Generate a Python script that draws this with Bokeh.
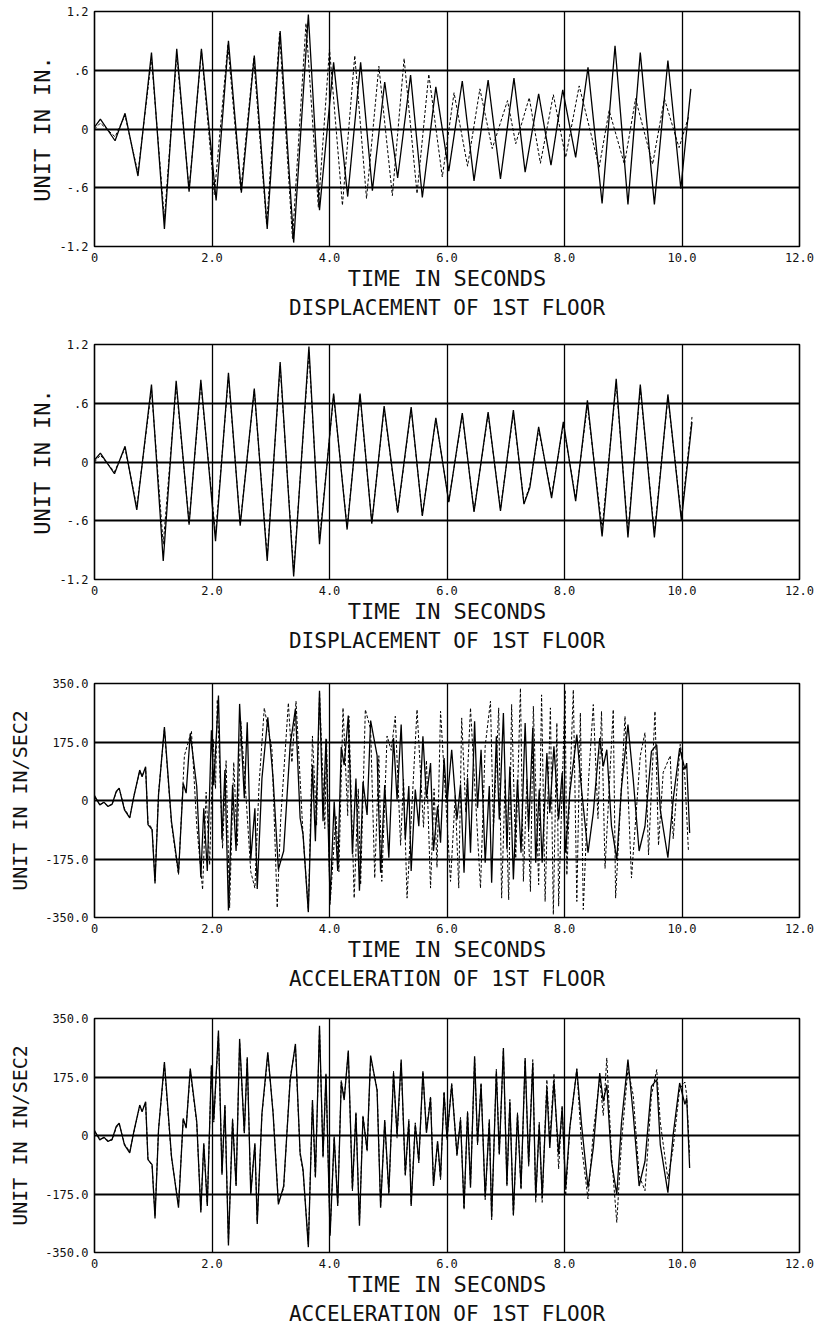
from bokeh.plotting import figure
from bokeh.models import Range1d, FixedTicker
from bokeh.layouts import column
from bokeh.embed import file_html
from bokeh.resources import INLINE

# ---------------- data ----------------
x_ticks = [0, 2, 4, 6, 8, 10, 12]
x_tick_labels = ["0", "2.0", "4.0", "6.0", "8.0", "10.0", "12.0"]

disp_ticks = [-1.2, -0.6, 0, 0.6, 1.2]
disp_tick_labels = ["-1.2", "-.6", "0", ".6", "1.2"]
acc_ticks = [-350, -175, 0, 175, 350]
acc_tick_labels = ["-350.0", "-175.0", "0", "175.0", "350.0"]

# Panel 1 : displacement, measured (solid) and computed (dashed)
p1_t_meas = [0.0, 0.1, 0.35, 0.52, 0.74, 0.97, 1.19, 1.40, 1.61, 1.82,
             2.07, 2.28, 2.50, 2.72, 2.94, 3.16, 3.39, 3.64, 3.83, 4.07,
             4.31, 4.53, 4.73, 4.94, 5.16, 5.38, 5.58, 5.81, 6.03, 6.26,
             6.46, 6.70, 6.91, 7.14, 7.33, 7.56, 7.77, 7.97, 8.19, 8.40,
             8.64, 8.86, 9.08, 9.29, 9.53, 9.76, 9.98, 10.15]
p1_v_meas = [0.02, 0.10, -0.12, 0.16, -0.48, 0.78, -1.02, 0.82, -0.64, 0.82,
             -0.73, 0.90, -0.65, 0.75, -1.02, 1.00, -1.16, 1.17, -0.83, 0.68,
             -0.69, 0.68, -0.63, 0.48, -0.50, 0.55, -0.70, 0.43, -0.43, 0.49,
             -0.53, 0.50, -0.51, 0.52, -0.44, 0.36, -0.37, 0.40, -0.29, 0.63,
             -0.76, 0.85, -0.77, 0.78, -0.77, 0.70, -0.61, 0.41]
p1_t_comp = [0.0, 0.1, 0.35, 0.52, 0.74, 0.97, 1.19, 1.40, 1.61, 1.82,
             2.04, 2.27, 2.49, 2.71, 2.93, 3.15, 3.37, 3.60, 3.81, 4.00,
             4.22, 4.43, 4.63, 4.84, 5.07, 5.27, 5.49, 5.69, 5.92, 6.12,
             6.35, 6.56, 6.77, 7.03, 7.17, 7.40, 7.59, 7.81, 8.02, 8.25,
             8.59, 8.76, 9.02, 9.21, 9.50, 9.70, 9.95, 10.12]
p1_v_comp = [0.0, 0.06, -0.08, 0.14, -0.45, 0.72, -0.92, 0.76, -0.62, 0.80,
             -0.67, 0.86, -0.63, 0.72, -0.98, 0.98, -1.12, 1.08, -0.80, 0.82,
             -0.78, 0.75, -0.71, 0.64, -0.68, 0.72, -0.66, 0.56, -0.49, 0.37,
             -0.38, 0.41, -0.20, 0.29, -0.15, 0.32, -0.35, 0.35, -0.29, 0.44,
             -0.39, 0.19, -0.36, 0.31, -0.36, 0.31, -0.19, 0.14]

# Panel 2 : displacement, measured (solid) and computed (dashed)
p2_t = [0.0, 0.10, 0.34, 0.52, 0.72, 0.97, 1.17, 1.39, 1.61, 1.81,
        2.06, 2.28, 2.48, 2.72, 2.94, 3.16, 3.39, 3.65, 3.83, 4.07,
        4.30, 4.52, 4.72, 4.93, 5.16, 5.39, 5.58, 5.81, 6.03, 6.26,
        6.46, 6.70, 6.91, 7.13, 7.31, 7.41, 7.56, 7.78, 7.98, 8.19,
        8.39, 8.64, 8.88, 9.08, 9.29, 9.53, 9.76, 9.99, 10.17]
p2_v_meas = [0.02, 0.09, -0.12, 0.16, -0.49, 0.79, -1.01, 0.83, -0.64, 0.84,
             -0.81, 0.91, -0.65, 0.75, -1.01, 1.02, -1.17, 1.18, -0.84, 0.70,
             -0.69, 0.70, -0.63, 0.57, -0.51, 0.56, -0.55, 0.45, -0.41, 0.50,
             -0.51, 0.51, -0.50, 0.53, -0.43, -0.26, 0.36, -0.37, 0.41, -0.40,
             0.63, -0.76, 0.85, -0.77, 0.79, -0.77, 0.69, -0.60, 0.41]
p2_v_comp = [0.0, 0.07, -0.10, 0.14, -0.46, 0.74, -0.84, 0.78, -0.62, 0.80,
             -0.74, 0.87, -0.63, 0.73, -0.97, 0.98, -1.12, 1.12, -0.80, 0.68,
             -0.67, 0.68, -0.62, 0.55, -0.52, 0.54, -0.54, 0.44, -0.40, 0.48,
             -0.50, 0.49, -0.48, 0.50, -0.42, -0.24, 0.33, -0.34, 0.38, -0.37,
             0.58, -0.68, 0.80, -0.72, 0.75, -0.72, 0.66, -0.56, 0.46]

# Acceleration, measured record (solid, panels 3 and 4)
acc_t = [0.00, 0.09, 0.16, 0.23, 0.30, 0.37, 0.42, 0.51, 0.60, 0.67,
         0.77, 0.81, 0.87, 0.91, 0.98, 1.03, 1.09, 1.19, 1.31, 1.43,
         1.51, 1.56, 1.63, 1.74, 1.81, 1.86, 1.92, 1.99, 2.03, 2.11,
         2.17, 2.22, 2.28, 2.35, 2.41, 2.47, 2.55, 2.60, 2.66, 2.73,
         2.77, 2.85, 2.95, 3.04, 3.13, 3.22, 3.33, 3.42, 3.50, 3.55,
         3.64, 3.71, 3.76, 3.83, 3.89, 3.94, 4.01, 4.08, 4.14, 4.20,
         4.25, 4.32, 4.39, 4.45, 4.51, 4.57, 4.64, 4.70, 4.81, 4.87,
         4.94, 5.01, 5.09, 5.15, 5.22, 5.29, 5.35, 5.39, 5.46, 5.52,
         5.59, 5.65, 5.72, 5.77, 5.84, 5.89, 5.95, 6.00, 6.08, 6.17,
         6.23, 6.29, 6.35, 6.40, 6.47, 6.52, 6.58, 6.65, 6.72, 6.76,
         6.84, 6.89, 6.96, 7.02, 7.07, 7.13, 7.20, 7.26, 7.33, 7.39,
         7.46, 7.51, 7.57, 7.62, 7.70, 7.75, 7.82, 7.90, 7.96, 8.02,
         8.09, 8.21, 8.29, 8.40, 8.49, 8.60, 8.66, 8.72, 8.80, 8.89,
         8.97, 9.08, 9.17, 9.27, 9.37, 9.48, 9.57, 9.63, 9.76, 9.85,
         9.96, 10.05, 10.08, 10.13]
acc_meas = [15, -13, -5, -18, -11, 27, 37, -28, -52, 12,
            91, 71, 101, -72, -87, -248, 17, 220, -62, -216,
            51, 22, 200, 42, -230, -23, -211, 210, 46, 314,
            -117, 91, -329, 46, -151, 289, 7, 234, -176, -23,
            -265, 66, 249, 66, -206, -151, 165, 274, -52, -102,
            -334, 106, -122, 328, -62, 185, -300, -3, -211, 160,
            106, 254, -161, 66, -270, 56, -43, 239, 135, -216,
            46, -171, 187, 3, 227, -116, 43, -211, 33, -77,
            192, 8, 112, -151, -17, -126, 127, -7, 152, -57,
            48, -216, 68, -156, 237, -22, 152, -186, 43, -246,
            192, -57, 262, -146, 102, -236, 63, -156, 232, -87,
            217, -186, 33, -186, 142, -37, 162, -57, 83, -156,
            23, 197, 33, -156, -37, 187, 102, 152, -77, -176,
            38, 227, 63, -151, -77, 147, 167, -27, -171, 3,
            157, 93, 112, -97]

# Panel 3 : computed acceleration (dashed)
p3_t_comp = [0.00, 0.09, 0.16, 0.23, 0.30, 0.37, 0.42, 0.51, 0.60, 0.67,
             0.77, 0.81, 0.87, 0.91, 0.98, 1.03, 1.09, 1.19, 1.31, 1.43,
             1.53, 1.65, 1.74, 1.84, 1.90, 1.96, 2.02, 2.06, 2.09, 2.18,
             2.24, 2.30, 2.37, 2.43, 2.49, 2.57, 2.66, 2.73, 2.80, 2.89,
             3.02, 3.11, 3.17, 3.30, 3.36, 3.43, 3.55, 3.64, 3.71, 3.78,
             3.83, 3.92, 3.95, 4.01, 4.11, 4.16, 4.23, 4.31, 4.33, 4.42,
             4.49, 4.53, 4.61, 4.70, 4.77, 4.84, 4.89, 4.98, 5.05,
             5.12, 5.21, 5.26, 5.32, 5.49, 5.60, 5.65, 5.72, 5.78, 5.83,
             5.89, 6.06, 6.14, 6.20, 6.25, 6.32, 6.40, 6.57, 6.65, 6.74,
             6.79, 6.88, 6.93, 6.99, 7.05, 7.10, 7.17, 7.25, 7.30, 7.36,
             7.42, 7.47, 7.56, 7.61, 7.67, 7.76, 7.81, 7.87, 7.90, 8.01,
             8.04, 8.15, 8.21, 8.27, 8.32, 8.41, 8.49, 8.57, 8.63, 8.69,
             8.83, 8.87, 9.03, 9.14, 9.29, 9.37, 9.43, 9.54, 9.60, 9.68,
             9.80, 9.85, 9.97, 10.05, 10.11]
p3_v_comp = [10, -12, -6, -16, -12, 25, 36, -24, -50, 14,
             88, 74, 96, -66, -84, -240, 22, 214, -70, -222,
             134, 208, -74, -267, 25, -193, 183, 35, 302, -143,
             119, -321, 114, -134, 237, 35, -213, -262, 45, 277,
             153, -321, -54, 292, 114, 297, -104, -331, 193, -74,
             326, -84, 183, -311, -45, -213, 277, -45, 252, -292,
             35, -252, 272, 213, -232, 134, -242, 193, 150,
             252, -134, 64, -292, 272, -80, 120, -262, 35, -200,
             267, -242, 15, -262, 247, -35, 277, -262, 163, 297,
             -84, 277, -292, 64, -297, 287, -173, 336, -242, 64,
             -272, 282, -252, 316, -302, 277, -341, 232, -316, 331,
             -223, 331, -302, 262, -326, 64, 287, -54, 267, -203,
             272, -292, 252, -232, 134, 203, -163, 267, -134, 84,
             134, -114, 168, 64, -153]

# Panel 4 : computed acceleration (dashed), same time stamps as acc_t
p4_v_comp = [12, -10, -8, -15, -14, 24, 35, -25, -48, 10,
             88, 74, 98, -70, -90, -240, 20, 212, -66, -208,
             48, 26, 192, 38, -222, -28, -205, 204, 40, 305,
             -112, 86, -320, 50, -146, 280, 10, 228, -170, -28,
             -258, 62, 240, 70, -200, -158, 172, 268, -58, -108,
             -325, 100, -128, 320, -66, 180, -292, -8, -205, 166,
             112, 248, -166, 70, -262, 60, -48, 232, 140, -210,
             40, -176, 192, -8, 220, -122, 48, -205, 38, -82,
             186, 14, 118, -146, -22, -132, 132, -12, 158, -62,
             54, -222, 74, -150, 230, -28, 158, -192, 48, -252,
             198, -52, 255, -152, 108, -242, 68, -162, 226, -92,
             227, -200, 40, -200, 167, -20, 185, -100, 90, -180,
             20, 200, -30, -190, 10, 170, 60, 232, -60, -260,
             -20, 200, 120, -120, -165, 120, 197, 40, -130, -37,
             140, 160, 120, -60]

FONT = "DejaVu Sans Mono"
PAGE_W = 825
LEFT = 94
FRAME_W = 705


def make_panel(t_m, v_m, t_c, v_c, yr, yt, ylabels, ylabel, title,
               ylabel_size, ylabel_standoff, top, bottom, fh):
    p = figure(frame_width=FRAME_W, frame_height=fh,
               min_border_left=LEFT, min_border_right=PAGE_W - LEFT - FRAME_W,
               min_border_top=top, min_border_bottom=bottom,
               x_range=Range1d(0, 12), y_range=Range1d(yr[0], yr[1]),
               output_backend="svg", toolbar_location=None,
               title=title, title_location="below")
    p.background_fill_color = "white"
    p.border_fill_color = "white"
    p.outline_line_color = "black"
    p.outline_line_width = 1.6

    p.title.align = "center"
    p.title.text_font = FONT
    p.title.text_font_size = "21px"
    p.title.text_font_style = "normal"
    p.title.text_color = "#111111"
    p.title.standoff = 0

    xa = p.xaxis[0]
    xa.ticker = FixedTicker(ticks=x_ticks)
    xa.major_label_overrides = {k: s for k, s in zip(x_ticks, x_tick_labels)}
    xa.axis_label = "TIME IN SECONDS"
    xa.axis_label_text_font = FONT
    xa.axis_label_text_font_size = "22px"
    xa.axis_label_text_font_style = "normal"
    xa.axis_label_text_color = "#111111"
    xa.axis_label_standoff = 1

    ya = p.yaxis[0]
    ya.ticker = FixedTicker(ticks=yt)
    ya.major_label_overrides = {k: s for k, s in zip(yt, ylabels)}
    ya.axis_label = ylabel
    ya.axis_label_text_font = FONT
    ya.axis_label_text_font_size = ylabel_size
    ya.axis_label_text_font_style = "normal"
    ya.axis_label_text_color = "#111111"
    ya.axis_label_standoff = ylabel_standoff

    for ax in (xa, ya):
        ax.axis_line_color = None
        ax.major_tick_line_color = None
        ax.minor_tick_line_color = None
        ax.major_tick_out = 0
        ax.major_tick_in = 0
        ax.major_label_text_font = FONT
        ax.major_label_text_font_size = "12px"
        ax.major_label_text_color = "#111111"
    xa.major_label_standoff = 6
    ya.major_label_standoff = 6

    p.xgrid.ticker = FixedTicker(ticks=x_ticks[1:-1])
    p.ygrid.ticker = FixedTicker(ticks=yt[1:-1])
    p.xgrid.grid_line_color = "black"
    p.xgrid.grid_line_width = 1.3
    p.ygrid.grid_line_color = "black"
    p.ygrid.grid_line_width = 1.8

    p.line(t_c, v_c, line_color="black", line_width=1.0, line_dash="3 2")
    p.line(t_m, v_m, line_color="black", line_width=1.3)
    return p


p1 = make_panel(p1_t_meas, p1_v_meas, p1_t_comp, p1_v_comp, (-1.2, 1.2),
                disp_ticks, disp_tick_labels, "UNIT IN IN.",
                "DISPLACEMENT OF 1ST FLOOR", "22px", 2, 11, 79, 235)
p2 = make_panel(p2_t, p2_v_meas, p2_t, p2_v_comp, (-1.2, 1.2),
                disp_ticks, disp_tick_labels, "UNIT IN IN.",
                "DISPLACEMENT OF 1ST FLOOR", "22px", 2, 19, 81, 235)
p3 = make_panel(acc_t, acc_meas, p3_t_comp, p3_v_comp, (-350, 350),
                acc_ticks, acc_tick_labels, "UNIT IN IN/SEC2",
                "ACCELERATION OF 1ST FLOOR", "20px", 10, 23, 78, 234)
p4 = make_panel(acc_t, acc_meas, acc_t, p4_v_comp, (-350, 350),
                acc_ticks, acc_tick_labels, "UNIT IN IN/SEC2",
                "ACCELERATION OF 1ST FLOOR", "20px", 10, 23, 72, 234)

layout = column(p1, p2, p3, p4, spacing=0)
open("out.html", "w").write(file_html(layout, INLINE))
